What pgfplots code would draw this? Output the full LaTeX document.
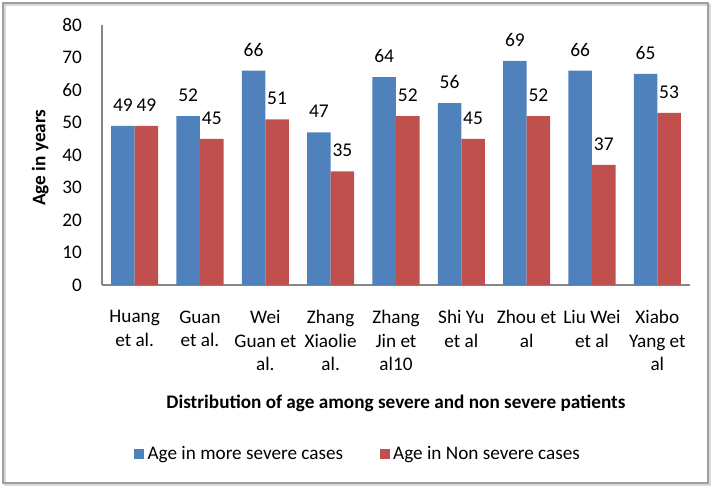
\documentclass[border=0pt]{standalone}
\usepackage{fontspec}
\setmainfont{Carlito}
\usepackage{pgfplots}
\pgfplotsset{compat=1.18}
\definecolor{cblue}{HTML}{4F81BD}
\definecolor{cred}{HTML}{C0504D}
\definecolor{axgray}{HTML}{868686}
\begin{document}
\begin{tikzpicture}
\useasboundingbox (0,0) rectangle (536.25pt,-365.25pt);
\draw[gray!30, line width=1.6pt] (3.5pt,-3.5pt) rectangle (532.5pt,-363.5pt);
\draw[gray!75, line width=1pt] (2.25pt,-2.25pt) rectangle (531pt,-362.25pt);
\begin{axis}[
  at={(76.5pt,-213.75pt)}, anchor=south west,
  scale only axis, width=441pt, height=195pt,
  ybar=0pt, bar width=0.36,
  xmin=-0.5, xmax=8.5, ymin=0, ymax=80,
  xtick={0,...,8}, ytick={0,10,...,80},
  xticklabels={{Huang\\et al.},{Guan\\et al.},{Wei\\Guan et\\al.},{Zhang\\Xiaolie\\al.},{Zhang\\Jin et\\al10},{Shi Yu\\et al},{Zhou et\\al},{Liu Wei\\et al},{Xiabo\\Yang et\\al}},
  major tick length=0pt,
  axis x line*=bottom, axis y line*=left,
  axis line style={draw=axgray, line width=0.9pt, -},
  /pgf/number format/assume math mode=true,
  xticklabel style={align=center, font=\fontsize{14.4}{17.6}\selectfont, inner sep=0pt, anchor=north, yshift=-19pt},
  yticklabel style={font=\fontsize{14.4}{17}\selectfont, inner sep=0pt, anchor=east, xshift=-15pt},
  ylabel={Age in years},
  ylabel style={font=\bfseries\fontsize{14.4}{17}\selectfont, at={(axis description cs:-0.105,0.49)}, anchor=center, rotate=0},
  xlabel={Distribution of age among severe and non severe patients},
  xlabel style={font=\bfseries\fontsize{14.4}{17}\selectfont, at={(axis description cs:0.5,-0.454)}, anchor=center},
  nodes near coords,
  every node near coord/.append style={font=\fontsize{14.6}{17}\selectfont, black, inner sep=0pt, anchor=south, yshift=10.5pt},
  legend columns=2,
  legend style={at={(axis description cs:0.0476,-0.65)}, anchor=west, draw=none, fill=none,
    font=\fontsize{14.4}{17}\selectfont, nodes={inner sep=2.5pt},
    /tikz/every even column/.append style={column sep=25pt}},
  clip=false,
]
\addplot[fill=cblue, draw=none, legend image code/.code={\fill[cblue] (0pt,-3.75pt) rectangle (7.5pt,3.75pt);}]
  coordinates {(0,49) (1,52) (2,66) (3,47) (4,64) (5,56) (6,69) (7,66) (8,65)};
\addplot[fill=cred, draw=none, legend image code/.code={\fill[cred] (0pt,-3.75pt) rectangle (7.5pt,3.75pt);}]
  coordinates {(0,49) (1,45) (2,51) (3,35) (4,52) (5,45) (6,52) (7,37) (8,53)};
\legend{Age in more severe cases, Age in Non severe cases}
\end{axis}
\end{tikzpicture}
\end{document}
